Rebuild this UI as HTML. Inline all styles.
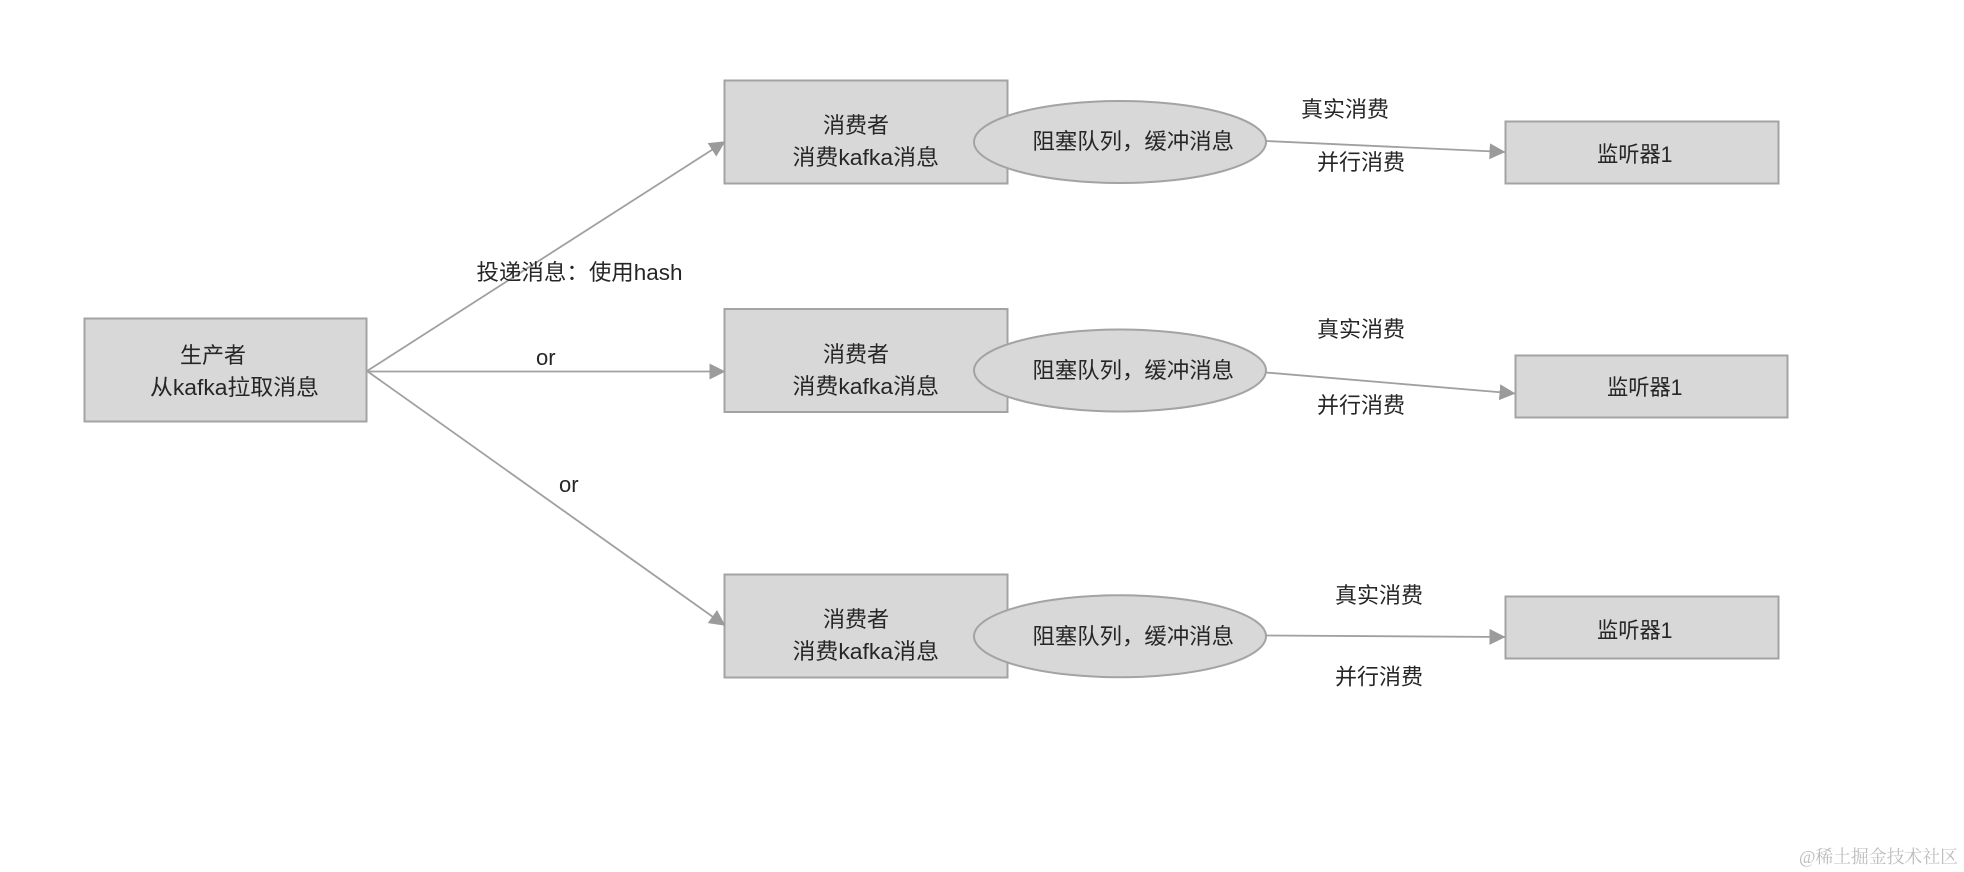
<!DOCTYPE html>
<html lang="zh">
<head>
<meta charset="utf-8">
<title>Diagram</title>
<style>
html,body{margin:0;padding:0;background:#fff;width:1964px;height:872px;overflow:hidden}
svg{display:block}
text{font-family:"Liberation Sans","Noto Sans CJK SC",sans-serif;font-size:22px;fill:#262626}
.n{fill:#d8d8d8;stroke:#a3a3a3;stroke-width:2}
.c{stroke:#a0a0a0;stroke-width:1.8;fill:none;marker-end:url(#a)}
</style>
</head>
<body>
<svg width="1964" height="872" viewBox="0 0 1964 872" xmlns="http://www.w3.org/2000/svg">
<defs>
<marker id="a" markerUnits="userSpaceOnUse" markerWidth="16" markerHeight="16" refX="15.5" refY="8" orient="auto">
<path d="M0 0L16 8L0 16Z" fill="#9b9b9b"/>
</marker>
</defs>
<rect width="1964" height="872" fill="#fff"/>

<rect class="n" x="84.5" y="318.5" width="282" height="103"/>
<rect class="n" x="724.5" y="80.5" width="283" height="103"/>
<rect class="n" x="724.5" y="309" width="283" height="103"/>
<rect class="n" x="724.5" y="574.5" width="283" height="103"/>
<ellipse class="n" cx="1120" cy="142" rx="146" ry="41"/>
<ellipse class="n" cx="1120" cy="370.5" rx="146" ry="41"/>
<ellipse class="n" cx="1120" cy="636.3" rx="146" ry="41"/>
<rect class="n" x="1505.5" y="121.5" width="273" height="62"/>
<rect class="n" x="1515.5" y="355.5" width="272" height="62"/>
<rect class="n" x="1505.5" y="596.5" width="273" height="62"/>

<line class="c" x1="367" y1="371" x2="725" y2="141.5"/>
<line class="c" x1="367" y1="371.5" x2="725" y2="371.5"/>
<line class="c" x1="367" y1="371" x2="725" y2="625.5"/>
<line class="c" x1="1266" y1="141" x2="1505" y2="152"/>
<line class="c" x1="1266" y1="372.5" x2="1515" y2="393.5"/>
<line class="c" x1="1266" y1="635.5" x2="1505" y2="637"/>

<text x="180" y="363">生产者</text>
<text x="150" y="395" textLength="169" lengthAdjust="spacingAndGlyphs">从kafka拉取消息</text>
<text x="476.5" y="280" textLength="206" lengthAdjust="spacingAndGlyphs">投递消息：使用hash</text>
<text x="536" y="365">or</text>
<text x="559" y="492">or</text>

<text x="823" y="133">消费者</text>
<text x="792.5" y="165" textLength="146.5" lengthAdjust="spacingAndGlyphs">消费kafka消息</text>
<text x="823" y="362">消费者</text>
<text x="792.5" y="394" textLength="146.5" lengthAdjust="spacingAndGlyphs">消费kafka消息</text>
<text x="823" y="627">消费者</text>
<text x="792.5" y="659" textLength="146.5" lengthAdjust="spacingAndGlyphs">消费kafka消息</text>

<text x="1032.5" y="149" textLength="201.5" lengthAdjust="spacingAndGlyphs">阻塞队列，缓冲消息</text>
<text x="1032.5" y="378" textLength="201.5" lengthAdjust="spacingAndGlyphs">阻塞队列，缓冲消息</text>
<text x="1032.5" y="644" textLength="201.5" lengthAdjust="spacingAndGlyphs">阻塞队列，缓冲消息</text>

<text x="1301" y="117">真实消费</text>
<text x="1317" y="170">并行消费</text>
<text x="1317" y="337">真实消费</text>
<text x="1317" y="413">并行消费</text>
<text x="1335" y="603">真实消费</text>
<text x="1335" y="684.5">并行消费</text>

<text x="1597" y="162" textLength="75.5" lengthAdjust="spacingAndGlyphs">监听器1</text>
<text x="1607" y="395" textLength="75.5" lengthAdjust="spacingAndGlyphs">监听器1</text>
<text x="1597" y="638" textLength="75.5" lengthAdjust="spacingAndGlyphs">监听器1</text>

<text x="1799" y="863" textLength="159" lengthAdjust="spacingAndGlyphs" style="font-family:'Liberation Serif','Noto Serif CJK SC',serif;font-size:18px;fill:#bdbdbd">@稀土掘金技术社区</text>
</svg>
</body>
</html>
